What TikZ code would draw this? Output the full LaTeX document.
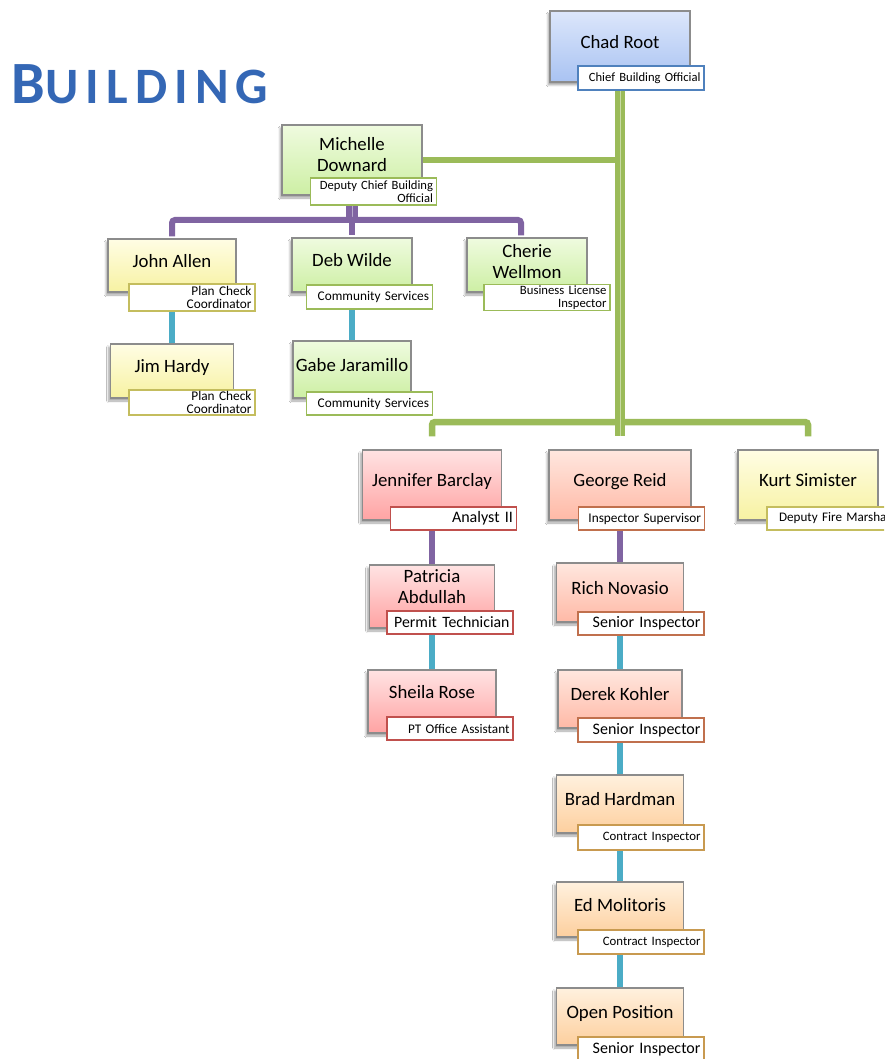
\documentclass[tikz,border=0pt]{standalone}
\usepackage{fontspec}
\setmainfont{Carlito}
\usetikzlibrary{positioning,backgrounds,shadows.blur,calc}
\definecolor{bdblue}{HTML}{4F81BD}
\definecolor{bdgreen}{HTML}{9BBB59}
\definecolor{bdyellow}{HTML}{C4BD5E}
\definecolor{bdred}{HTML}{C0504D}
\definecolor{bdsalmon}{HTML}{C0704D}
\definecolor{bdorange}{HTML}{C89A50}
\definecolor{lnpurple}{HTML}{8064A2}
\definecolor{lnteal}{HTML}{4BACC6}
\definecolor{lngreen}{HTML}{9BBB59}
\definecolor{boxgray}{HTML}{8C8C8C}
\definecolor{bluetop}{HTML}{DCE6FB}
\definecolor{bluebot}{HTML}{A9C3F2}
\definecolor{greentop}{HTML}{EFFBDF}
\definecolor{greenbot}{HTML}{CDEFA4}
\definecolor{yellowtop}{HTML}{FFFDE4}
\definecolor{yellowbot}{HTML}{F7F2A2}
\definecolor{redtop}{HTML}{FFE3E3}
\definecolor{redbot}{HTML}{FFA3A3}
\definecolor{salmontop}{HTML}{FFE7DF}
\definecolor{salmonbot}{HTML}{FFB9A6}
\definecolor{orangetop}{HTML}{FFF1DE}
\definecolor{orangebot}{HTML}{FDCF9E}
\definecolor{headblue}{HTML}{3467B5}
\newcommand{\namefont}{\fontsize{18.8}{21}\selectfont}
\newcommand{\rolesz}[1]{\fontsize{#1}{13.5}\selectfont}

\begin{document}
\begin{tikzpicture}[x=1pt,y=-1pt,
  boxsize/.style 2 args={minimum width=#1pt,minimum height=#2pt},
  person/.style={draw=boxgray,line width=1.2pt,inner sep=0pt,align=center,font=\namefont,
    text height=12pt,text depth=8.6pt,
    blur shadow={shadow xshift=-2pt,shadow yshift=-3pt,shadow opacity=35,shadow blur steps=6}},
  twolines/.style={text height=33pt,text depth=#1pt},
  bluebox/.style={person,top color=bluetop,bottom color=bluebot},
  greenbox/.style={person,top color=greentop,bottom color=greenbot},
  yellowbox/.style={person,top color=yellowtop,bottom color=yellowbot},
  redbox/.style={person,top color=redtop,bottom color=redbot},
  salmonbox/.style={person,top color=salmontop,bottom color=salmonbot},
  orangebox/.style={person,top color=orangetop,bottom color=orangebot},
  role/.style={draw=#1,fill=white,line width=1.3pt,minimum width=126pt,minimum height=24pt,
    text width=119pt,inner xsep=3.5pt,inner ysep=1pt,align=right,font=\rolesz{12.6}},
  greenlink/.style={draw=lngreen,line width=6.5pt,rounded corners=3pt},
  trunkline/.style={draw=lngreen,line width=5pt,double=lngreen!55!white,double distance=0.8pt},
  purplelink/.style={draw=lnpurple,line width=6pt,rounded corners=3pt},
  purpletrunk/.style={draw=lnpurple,line width=5.5pt,double=lnpurple!55!white,double distance=0.8pt},
  tealink/.style={draw=lnteal,line width=6pt}]
  \useasboundingbox (0,0) rectangle (884,1059);
  \clip (0,0) rectangle (884,1059);
  % Heading
  \node[text=headblue,font=\bfseries,inner sep=0pt] (heading) at (140,84)
    {\addfontfeatures{LetterSpace=14}{\fontsize{60}{60}\selectfont B}{\fontsize{51}{51}\selectfont UILDING}};
  % Chief
  \node[bluebox,boxsize={140}{71}] (chad) at (620,46.5) {Chad Root};
  \node[role=bdblue] (chadR) at (641,78) {Chief Building Official};
  % Deputy and her staff
  \node[greenbox,boxsize={140}{70},twolines=9.6] (michelle) at (352,160) {Michelle\\Downard};
  \node[role=bdgreen,minimum height=27pt] (michelleR) at (373.5,191.5) {Deputy Chief Building\\Official};
  \node[yellowbox,boxsize={128}{53}] (john) at (172,265.5) {John Allen};
  \node[role=bdyellow,minimum height=27pt,font=\rolesz{13.3}] (johnR) at (192,297.5) {Plan Check\\Coordinator};
  \node[yellowbox,boxsize={123}{54}] (jim) at (172,371) {Jim Hardy};
  \node[role=bdyellow,minimum height=25pt,font=\rolesz{13.3}] (jimR) at (192,402.5) {Plan Check\\Coordinator};
  \node[greenbox,boxsize={120}{54}] (deb) at (352,265) {Deb Wilde};
  \node[role=bdgreen,font=\rolesz{13.3}] (debR) at (369.5,297) {Community Services};
  \node[greenbox,boxsize={118}{57}] (gabe) at (352,369.5) {Gabe Jaramillo};
  \node[role=bdgreen,minimum height=23pt,font=\rolesz{13.3}] (gabeR) at (369.5,403.5) {Community Services};
  \node[greenbox,boxsize={120}{54},twolines=6.6] (cherie) at (527,265) {Cherie\\Wellmon};
  \node[role=bdgreen,minimum height=25pt,font=\rolesz{12.7}] (cherieR) at (547,297.5) {Business License\\Inspector};
  % Office staff
  \node[redbox,boxsize={139}{70}] (jennifer) at (432,485) {Jennifer Barclay};
  \node[role=bdred,minimum height=23pt,font=\rolesz{16}] (jenniferR) at (453.5,518.5) {Analyst II};
  \node[redbox,boxsize={125}{63},twolines=19.6] (patricia) at (432,596.5) {Patricia\\Abdullah};
  \node[role=bdred,minimum height=23pt,font=\rolesz{15.8}] (patriciaR) at (450,622.5) {Permit Technician};
  \node[redbox,boxsize={128}{63},text depth=17.6pt] (sheila) at (432,701.5) {Sheila Rose};
  \node[role=bdred,minimum height=23pt,font=\rolesz{13.2}] (sheilaR) at (450,728.5) {PT Office Assistant};
  % Inspectors
  \node[salmonbox,boxsize={142}{70}] (george) at (620,485) {George Reid};
  \node[role=bdsalmon,minimum height=23pt,font=\rolesz{13.3}] (georgeR) at (641.5,518.5) {Inspector Supervisor};
  \node[salmonbox,boxsize={127}{59}] (rich) at (620,592.5) {Rich Novasio};
  \node[role=bdsalmon,minimum height=23pt,font=\rolesz{16}] (richR) at (641,623.5) {Senior Inspector};
  \node[salmonbox,boxsize={124}{58}] (derek) at (620,699) {Derek Kohler};
  \node[role=bdsalmon,font=\rolesz{16}] (derekR) at (641,730) {Senior Inspector};
  \node[orangebox,boxsize={127}{58}] (brad) at (620,804) {Brad Hardman};
  \node[role=bdorange,minimum height=25pt,font=\rolesz{12.8}] (bradR) at (641,837.5) {Contract Inspector};
  \node[orangebox,boxsize={127}{55}] (ed) at (620,909.5) {Ed Molitoris};
  \node[role=bdorange,font=\rolesz{12.8}] (edR) at (641,942) {Contract Inspector};
  \node[orangebox,boxsize={127}{57}] (open) at (620,1016.5) {Open Position};
  \node[role=bdorange,font=\rolesz{16}] (openR) at (641,1049) {Senior Inspector};
  % Fire
  \node[yellowbox,boxsize={140}{70}] (kurt) at (808,485) {Kurt Simister};
  \node[role=bdyellow,minimum height=23pt,font=\rolesz{13.1}] (kurtR) at (830,518.5) {Deputy Fire Marshal};
  % Connectors
  \coordinate (bus) at (620,422);
  \coordinate (pbus) at (352,220);
  \coordinate (jtop) at ([yshift=13pt]jennifer.north);
  \coordinate (gtop) at ([yshift=13pt]george.north);
  \coordinate (ktop) at ([yshift=13pt]kurt.north);
  \begin{pgfonlayer}{background}
    \fill[white] (0,0) rectangle (884,1059);
    \draw[greenlink] (chad |- michelle.east) -- (michelle.east);
    \draw[greenlink] (jtop) |- (bus) -| (ktop);
    \draw[trunkline] (chad) -- (gtop);
    \draw[purpletrunk] (michelle) -- (pbus);
    \draw[purplelink,shorten >=2pt] (pbus) -| (john.north);
    \draw[purplelink,shorten >=2pt] (pbus) -| ([xshift=-6pt]cherie.north);
    \draw[purplelink,shorten >=2pt] (pbus) -- (deb.north);
    \draw[tealink] (john) -- (jim);
    \draw[tealink] (deb) -- (gabe);
    \draw[purplelink] (jennifer) -- (patricia);
    \draw[tealink] (patricia) -- (sheila);
    \draw[purplelink] (george) -- (rich);
    \draw[tealink] (rich) -- (derek) -- (brad) -- (ed) -- (open);
  \end{pgfonlayer}
\end{tikzpicture}
\end{document}
